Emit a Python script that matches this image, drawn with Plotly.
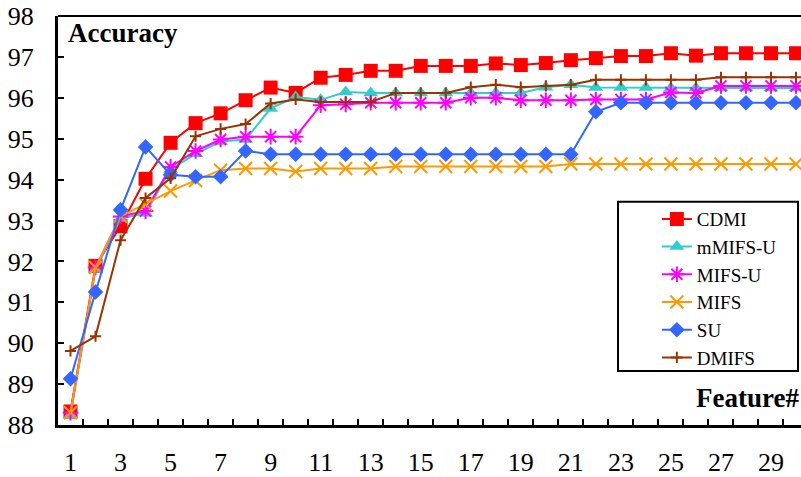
import plotly.graph_objects as go

# Number of selected features
features = list(range(1, 31))

# Classification accuracy (%) per method
cdmi = [88.33, 91.89, 92.86, 94.02, 94.90, 95.38, 95.62, 95.94, 96.25, 96.12,
        96.49, 96.56, 96.66, 96.66, 96.78, 96.78, 96.78, 96.84, 96.80, 96.85,
        96.92, 96.97, 97.02, 97.02, 97.09, 97.03, 97.09, 97.09, 97.09, 97.09]
mmifs_u = [88.25, 91.80, 93.05, 93.18, 94.25, 94.63, 94.93, 94.98, 95.74, 96.02,
           95.95, 96.14, 96.12, 96.12, 96.12, 96.12, 96.12, 96.12, 96.12, 96.26,
           96.32, 96.25, 96.25, 96.25, 96.24, 96.24, 96.24, 96.24, 96.24, 96.24]
mifs_u = [88.30, 91.85, 93.10, 93.23, 94.31, 94.70, 94.98, 95.05, 95.05, 95.05,
          95.82, 95.84, 95.88, 95.88, 95.88, 95.88, 96.00, 96.00, 95.94, 95.94,
          95.94, 95.96, 95.96, 95.96, 96.13, 96.12, 96.29, 96.29, 96.29, 96.29]
mifs = [88.30, 91.85, 93.10, 93.40, 93.72, 93.98, 94.23, 94.27, 94.27, 94.20,
        94.27, 94.27, 94.27, 94.32, 94.32, 94.32, 94.32, 94.32, 94.32, 94.32,
        94.38, 94.38, 94.38, 94.38, 94.38, 94.38, 94.38, 94.38, 94.38, 94.38]
su = [89.13, 91.25, 93.26, 94.80, 94.12, 94.07, 94.07, 94.70, 94.62, 94.62,
      94.62, 94.62, 94.62, 94.62, 94.62, 94.62, 94.62, 94.62, 94.62, 94.62,
      94.62, 95.66, 95.88, 95.88, 95.88, 95.88, 95.88, 95.88, 95.88, 95.88]
dmifs = [89.81, 90.17, 92.52, 93.55, 94.03, 95.06, 95.24, 95.36, 95.86, 95.96,
         95.90, 95.90, 95.90, 96.12, 96.12, 96.12, 96.26, 96.32, 96.26, 96.29,
         96.32, 96.44, 96.44, 96.44, 96.44, 96.44, 96.50, 96.50, 96.50, 96.50]

x_labels = list(range(1, 31, 2))
y_ticks = list(range(88, 99))

SERIF = "Liberation Serif, Times New Roman, serif"

series = [
    ("CDMI", cdmi, "#FF0000", dict(symbol="square", size=14)),
    ("mMIFS-U", mmifs_u, "#33CCCC", dict(symbol="triangle-up", size=13)),
    ("MIFS-U", mifs_u, "#FF00FF", dict(symbol="asterisk-open", size=13,
                                       line=dict(width=2, color="#FF00FF"))),
    ("MIFS", mifs, "#FF9900", dict(symbol="x-thin-open", size=13,
                                   line=dict(width=2, color="#FF9900"))),
    ("SU", su, "#3366FF", dict(symbol="diamond", size=12)),
    ("DMIFS", dmifs, "#993300", dict(symbol="cross-thin-open", size=8,
                                     line=dict(width=2, color="#993300"))),
]

fig = go.Figure()
for name, vals, color, marker in series:
    fig.add_trace(go.Scatter(
        x=features, y=vals, name=name, mode="lines+markers",
        line=dict(color=color, width=2),
        marker=dict(color=color, **marker),
    ))

fig.update_layout(
    width=801, height=477,
    margin=dict(l=58, r=0, t=16, b=45),
    paper_bgcolor="white", plot_bgcolor="white",
    font=dict(family=SERIF, color="black"),
    showlegend=True,
    legend=dict(
        x=0.806, y=0.55, xanchor="left", yanchor="top",
        borderwidth=0, bgcolor="rgba(0,0,0,0)",
        font=dict(family=SERIF, size=19, color="black"),
        tracegroupgap=0,
    ),
)

fig.update_xaxes(
    range=[0.5, 30.2],
    tickmode="array", tickvals=x_labels, ticktext=[str(v) for v in x_labels],
    ticks="", tickfont=dict(family=SERIF, size=26, color="black"),
    ticklabelstandoff=12,
    minor=dict(tickmode="array", tickvals=[v + 0.5 for v in features],
               ticks="inside", ticklen=6, tickwidth=2, tickcolor="black",
               showgrid=False),
    showline=True, linecolor="black", linewidth=3,
    showgrid=False, zeroline=False,
)
fig.update_yaxes(
    range=[88, 98],
    tickmode="array", tickvals=y_ticks,
    ticks="inside", ticklen=6, tickwidth=2, tickcolor="black",
    tickfont=dict(family=SERIF, size=26, color="black"),
    ticklabelstandoff=16,
    showline=True, linecolor="black", linewidth=3,
    showgrid=False, zeroline=False,
)

# top frame line
fig.add_shape(type="line", xref="paper", yref="paper", x0=0, x1=1, y0=1, y1=1,
              line=dict(color="black", width=2))
# legend frame
fig.add_shape(type="rect", xref="paper", yref="paper",
              x0=0.7537, x1=0.996, y0=0.1322, y1=0.5457,
              line=dict(color="black", width=2), fillcolor="white", layer="above")

fig.add_annotation(text="<b>Accuracy</b>", xref="paper", yref="paper",
                   x=0.011, y=0.959, xanchor="left", yanchor="middle",
                   showarrow=False, font=dict(family=SERIF, size=27, color="black"))
fig.add_annotation(text="<b>Feature#</b>", xref="paper", yref="paper",
                   x=1.0, y=0.066, xanchor="right", yanchor="middle",
                   showarrow=False, font=dict(family=SERIF, size=27, color="black"))

fig.write_html("out.html")
